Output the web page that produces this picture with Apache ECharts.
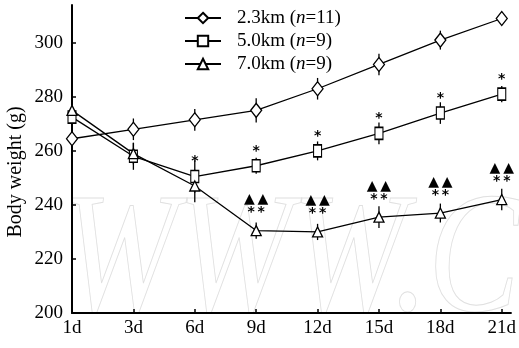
<!DOCTYPE html>
<html>
<head>
<meta charset="utf-8">
<script src="https://cdn.jsdelivr.net/npm/echarts@6/dist/echarts.min.js"></script>
<style>
  html, body { margin: 0; padding: 0; background: #fff; }
  #chart { width: 519px; height: 348px; }
</style>
</head>
<body>
<div id="chart"></div>
<script>
// Days after arrival
const days = ['1d', '3d', '6d', '9d', '12d', '15d', '18d', '21d'];
const yTicks = [200, 220, 240, 260, 280, 300];

// Mean body weight (g) per group
const w23 = [264.5, 268, 271.5, 275, 283, 292, 301, 309];
const w50 = [272.5, 258, 250.5, 254.5, 260, 266.5, 274, 281];
const w70 = [275, 259, 247, 230.5, 230, 235.5, 237, 242];

// Standard deviations (g)
const sd23 = [2, 4, 4, 4.5, 4, 4, 3.5, 1.5];
const sd50 = [3, 5, 6, 3, 3.5, 4, 4, 3];
const sd70 = [3, 4, 6, 3, 3, 4, 3.5, 4];

// Significance marks (thin spaces keep the paired symbols apart)
const sig50 = ['', '', '*', '*', '*', '*', '*', '*'];
const sig70 = ['', '', '', '▲\u2009▲\n*\u2009*', '▲\u2009▲\n*\u2009*', '▲\u2009▲\n*\u2009*', '▲\u2009▲\n*\u2009*', '▲\u2009▲\n*\u2009*'];

const groupNames = ['2.3km (n=11)', '5.0km (n=9)', '7.0km (n=9)'];
const yName = 'Body weight (g)';

const SERIF = '"Liberation Serif", "DejaVu Serif", serif';

function pairs(arr) { return arr.map((v, i) => [i, v]); }

function errSeries(vals, sds) {
  return {
    type: 'custom',
    silent: true,
    z: 1,
    data: vals.map((v, i) => [i, v - sds[i], v + sds[i]]),
    renderItem: function (params, api) {
      const lo = api.coord([api.value(0), api.value(1)]);
      const hi = api.coord([api.value(0), api.value(2)]);
      return {
        type: 'line',
        shape: { x1: lo[0], y1: lo[1], x2: hi[0], y2: hi[1] },
        style: { stroke: '#000', lineWidth: 1.3 }
      };
    }
  };
}

const lineBase = {
  type: 'line',
  z: 3,
  lineStyle: { color: '#000', width: 1.3 },
  itemStyle: { color: '#fff', borderColor: '#000', borderWidth: 1.3 },
  emphasis: { disabled: true },
  animation: false
};

const chart = echarts.init(document.getElementById('chart'), null, { renderer: 'canvas' });

chart.setOption({
  animation: false,
  backgroundColor: '#fff',
  textStyle: { fontFamily: SERIF },
  graphic: [{
    // faint outlined background lettering
    type: 'text',
    z: -10,
    silent: true,
    left: 62,
    top: 178,
    scaleX: 0.8,
    style: {
      text: 'WWW.C',
      font: 'italic 172px "Liberation Serif", serif',
      fill: 'rgba(255,255,255,0)',
      stroke: '#e0e0e0',
      lineWidth: 1
    }
  }, {
    // y-axis title
    type: 'text',
    silent: true,
    x: 16,
    y: 172,
    rotation: Math.PI / 2,
    style: {
      text: yName,
      font: '20px "Liberation Serif", serif',
      fill: '#000',
      align: 'center',
      verticalAlign: 'middle'
    }
  }],
  grid: { left: 72, right: 7, top: 5, bottom: 35 },
  legend: {
    orient: 'vertical',
    left: 179,
    top: 3,
    itemGap: 3,
    itemWidth: 36,
    itemHeight: 13,
    data: groupNames,
    formatter: function (name) {
      const m = name.match(/^(.*\()n(=.*)$/);
      return '{g|}{a|' + m[1] + '}{i|n}{a|' + m[2] + '}';
    },
    textStyle: {
      fontFamily: SERIF,
      fontSize: 19,
      lineHeight: 20,
      color: '#000',
      rich: {
        g: { width: 11 },
        a: { fontFamily: SERIF, fontSize: 19, lineHeight: 20, color: '#000' },
        i: { fontFamily: SERIF, fontSize: 19, lineHeight: 20, color: '#000', fontStyle: 'italic' }
      }
    }
  },
  xAxis: {
    type: 'value',
    min: 0,
    max: 7.15,
    interval: 1,
    axisLine: { lineStyle: { color: '#000', width: 2 } },
    axisTick: { inside: true, length: 4, lineStyle: { color: '#000', width: 1.5 } },
    splitLine: { show: false },
    axisLabel: {
      color: '#000',
      fontFamily: SERIF,
      fontSize: 19,
      margin: 6,
      showMaxLabel: false,
      formatter: function (v) {
        return Number.isInteger(v) && days[v] !== undefined ? days[v] : '';
      }
    }
  },
  yAxis: {
    type: 'value',
    min: yTicks[0],
    max: 314,
    interval: yTicks[1] - yTicks[0],
    axisLine: { show: true, lineStyle: { color: '#000', width: 2 } },
    axisTick: { show: true, inside: true, length: 4, lineStyle: { color: '#000', width: 1.5 } },
    splitLine: { show: false },
    axisLabel: {
      color: '#000',
      fontFamily: SERIF,
      fontSize: 19,
      margin: 9,
      showMaxLabel: false,
      formatter: function (v) { return yTicks.indexOf(v) >= 0 ? String(v) : ''; }
    }
  },
  series: [
    errSeries(w23, sd23),
    errSeries(w50, sd50),
    errSeries(w70, sd70),
    Object.assign({}, lineBase, {
      name: groupNames[0],
      data: pairs(w23),
      symbol: 'diamond',
      symbolSize: [11, 14]
    }),
    Object.assign({}, lineBase, {
      name: groupNames[1],
      data: pairs(w50),
      symbol: 'rect',
      symbolSize: [8, 12],
      label: {
        show: true,
        position: 'top',
        distance: 1,
        color: '#000',
        fontFamily: 'DejaVu Sans',
        fontSize: 14,
        fontWeight: 'bold',
        formatter: function (p) { return sig50[p.dataIndex]; }
      }
    }),
    Object.assign({}, lineBase, {
      name: groupNames[2],
      data: pairs(w70),
      symbol: 'triangle',
      symbolSize: [10, 10],
      label: {
        show: true,
        position: 'top',
        distance: 6,
        color: '#000',
        fontFamily: 'DejaVu Sans',
        fontSize: 14,
        fontWeight: 'bold',
        lineHeight: 13,
        formatter: function (p) { return sig70[p.dataIndex]; }
      }
    })
  ]
});
</script>
</body>
</html>
